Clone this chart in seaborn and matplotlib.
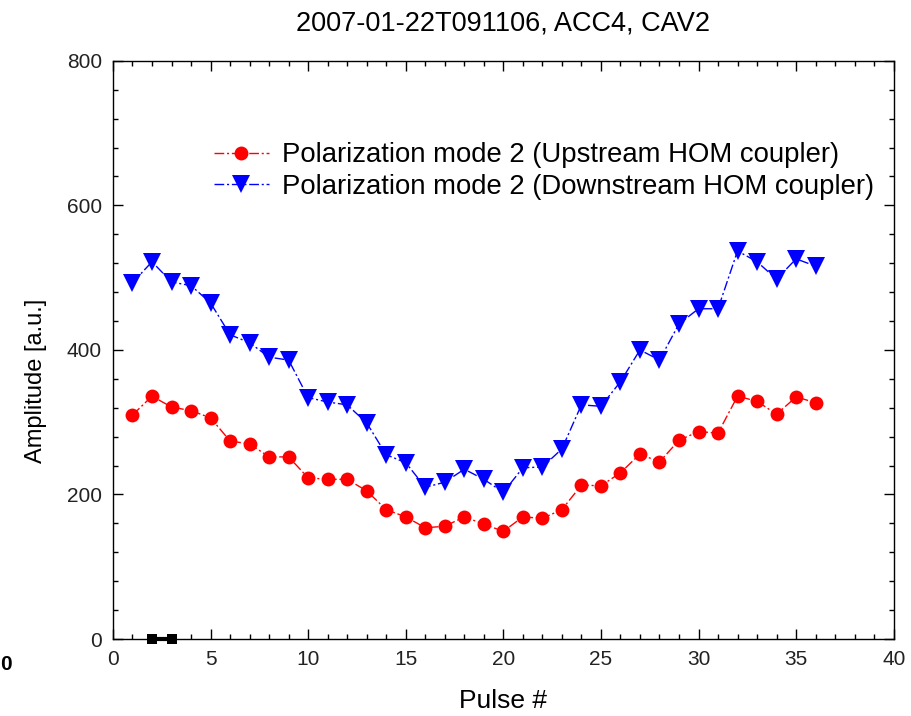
import matplotlib
matplotlib.use("Agg")
import matplotlib.pyplot as plt
import seaborn as sns
import pandas as pd
from matplotlib.ticker import MultipleLocator

pulse = list(range(1, 37))
upstream = [310, 336, 321, 316, 306, 274, 270, 252, 252, 223, 221, 221, 205, 179, 169, 154,
            156, 169, 159, 149, 169, 167, 179, 213, 212, 230, 256, 245, 275, 287, 285, 336,
            329, 311, 335, 327]
downstream = [493, 522, 494, 489, 465, 421, 410, 390, 386, 334, 328, 324, 299, 255, 244, 210,
              217, 235, 221, 203, 237, 238, 263, 324, 322, 356, 400, 386, 436, 457, 457, 537,
              522, 498, 526, 516]
extra_x = [2, 3]
extra_y = [0, 0]

label_up = "Polarization mode 2 (Upstream HOM coupler)"
label_down = "Polarization mode 2 (Downstream HOM coupler)"
title = "2007-01-22T091106, ACC4, CAV2"

sns.set_style("ticks")
plt.rcParams['font.family'] = ['Liberation Sans', 'DejaVu Sans']
plt.rcParams['text.color'] = 'black'
plt.rcParams['axes.labelcolor'] = 'black'

df_up = pd.DataFrame({"x": pulse, "y": upstream})
df_down = pd.DataFrame({"x": pulse, "y": downstream})
df_extra = pd.DataFrame({"x": extra_x, "y": extra_y})

fig = plt.figure(figsize=(9.11, 7.16), dpi=100)
ax = fig.add_axes([0.124, 0.1075, 0.857, 0.8075])

dash = (0, (7, 2, 1.5, 2))
sns.lineplot(data=df_up, x="x", y="y", ax=ax, color="#ff0000", marker="o", markersize=10,
             markeredgewidth=0, linestyle=dash, linewidth=1, label=label_up)
sns.lineplot(data=df_down, x="x", y="y", ax=ax, color="#0000ff", marker="v", markersize=13,
             markeredgewidth=0, linestyle=dash, linewidth=1, label=label_down)
sns.lineplot(data=df_extra, x="x", y="y", ax=ax, color="black", marker="s", markersize=7,
             markeredgewidth=0, linewidth=3, legend=False, clip_on=False)

ax.set_xlim(0, 40)
ax.set_ylim(0, 800)
ax.xaxis.set_major_locator(MultipleLocator(5))
ax.xaxis.set_minor_locator(MultipleLocator(1))
ax.yaxis.set_major_locator(MultipleLocator(200))
ax.yaxis.set_minor_locator(MultipleLocator(40))
ax.tick_params(which="both", direction="in", top=True, right=True, width=1, color="black")
ax.tick_params(which="major", length=7, labelsize=15, pad=8, labelcolor="#222222")
ax.tick_params(which="minor", length=3.5)
for s in ax.spines.values():
    s.set_linewidth(1)
    s.set_color("black")

ax.set_xlabel("Pulse #", fontsize=19, labelpad=14)
ax.set_ylabel("Amplitude [a.u.]", fontsize=17)
ax.yaxis.set_label_coords(-0.084, 0.446)
ax.set_title(title, fontsize=19.5, pad=22)

leg = ax.legend(loc="upper left", bbox_to_anchor=(0.115, 0.878), frameon=False, fontsize=19.8,
                handlelength=2.0, handletextpad=0.5, labelspacing=0.2, borderaxespad=0)

fig.text(0.0, 0.072, "0", fontsize=15, ha="left", va="center", fontweight="bold")

fig.savefig("out.png", dpi=100)
